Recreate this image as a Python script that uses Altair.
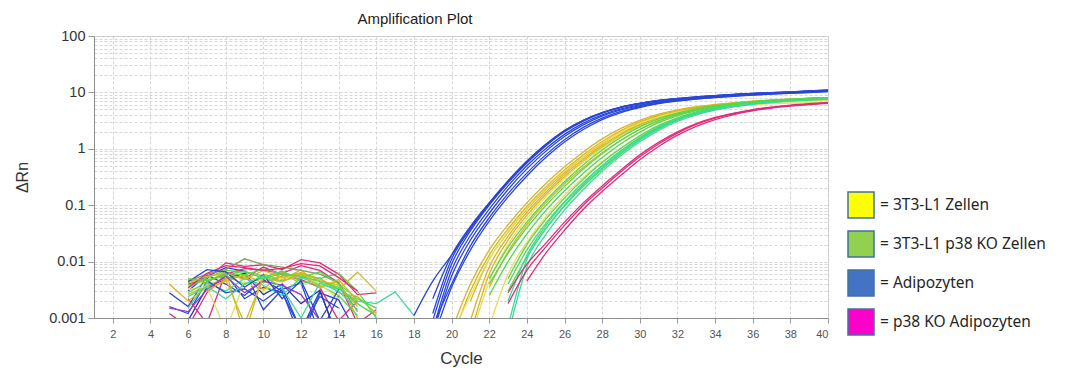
import altair as alt
import pandas as pd

TITLE = "Amplification Plot"
X_TITLE = "Cycle"
Y_TITLE = "ΔRn"

LEGEND_LABELS = ["= 3T3-L1 Zellen", "= 3T3-L1 p38 KO Zellen", "= Adipozyten", "= p38 KO Adipozyten"]
LEGEND_COLORS = ["#ffff00", "#92d050", "#4472c4", "#ff00cc"]

X_TICKS = list(range(2, 41, 2))
Y_DECADES = [0.001, 0.01, 0.1, 1, 10, 100]

# ---- amplification curves (start cycle, values per cycle) ----
blue_starts = [18, 19, 19, 19, 19, 19, 19, 19]
blue_curves = [
    [0.0011, 0.0045, 0.013, 0.04, 0.11, 0.27, 0.6, 1.2, 2.1, 3.2, 4.4, 5.5, 6.4, 7.2, 7.8, 8.3, 8.8, 9.2, 9.6, 9.9, 10.2, 10.6, 11.0],
    [0.0009, 0.009, 0.035, 0.1, 0.25, 0.56, 1.12, 2.0, 3.1, 4.3, 5.4, 6.3, 7.1, 7.7, 8.2, 8.7, 9.1, 9.5, 9.8, 10.1, 10.5, 10.9],
    [0.0006, 0.007, 0.029, 0.085, 0.22, 0.5, 1.0, 1.8, 2.85, 4.0, 5.1, 6.0, 6.8, 7.5, 8.0, 8.5, 8.9, 9.3, 9.6, 9.9, 10.3, 10.7],
    [0.0005, 0.0055, 0.024, 0.072, 0.19, 0.44, 0.9, 1.65, 2.65, 3.8, 4.9, 5.85, 6.65, 7.35, 7.9, 8.35, 8.8, 9.2, 9.5, 9.8, 10.2, 10.6],
    [0.0022, 0.013, 0.042, 0.11, 0.27, 0.6, 1.18, 2.1, 3.2, 4.4, 5.5, 6.4, 7.2, 7.8, 8.3, 8.8, 9.2, 9.6, 9.9, 10.2, 10.6, 11.0],
    [0.0007, 0.004, 0.019, 0.06, 0.16, 0.37, 0.78, 1.45, 2.4, 3.5, 4.6, 5.6, 6.45, 7.15, 7.7, 8.2, 8.65, 9.05, 9.4, 9.7, 10.0, 10.4],
    [0.0004, 0.0035, 0.016, 0.052, 0.14, 0.33, 0.7, 1.32, 2.2, 3.3, 4.4, 5.4, 6.3, 7.0, 7.6, 8.1, 8.55, 8.95, 9.3, 9.6, 9.9, 10.3],
    [0.0012, 0.011, 0.038, 0.105, 0.26, 0.58, 1.15, 2.05, 3.15, 4.35, 5.45, 6.35, 7.15, 7.75, 8.25, 8.75, 9.15, 9.55, 9.85, 10.15, 10.55, 10.95],
]

gold_starts = [20, 20, 21, 21, 21, 22]
gold_curves = [
    [0.0006, 0.004, 0.016, 0.045, 0.11, 0.24, 0.48, 0.88, 1.5, 2.3, 3.2, 4.1, 4.9, 5.6, 6.1, 6.6, 7.0, 7.3, 7.6, 7.8, 8.0],
    [0.0004, 0.003, 0.013, 0.038, 0.095, 0.21, 0.42, 0.78, 1.35, 2.1, 3.0, 3.9, 4.7, 5.4, 5.95, 6.45, 6.85, 7.2, 7.5, 7.7, 7.9],
    [0.002, 0.011, 0.033, 0.085, 0.19, 0.38, 0.72, 1.25, 2.0, 2.85, 3.75, 4.55, 5.25, 5.8, 6.3, 6.7, 7.05, 7.35, 7.6, 7.8],
    [0.0009, 0.008, 0.028, 0.075, 0.17, 0.35, 0.66, 1.15, 1.85, 2.7, 3.6, 4.4, 5.1, 5.7, 6.2, 6.6, 6.95, 7.25, 7.5, 7.7],
    [0.0005, 0.006, 0.024, 0.066, 0.155, 0.32, 0.61, 1.07, 1.75, 2.6, 3.5, 4.35, 5.1, 5.7, 6.2, 6.65, 7.0, 7.3, 7.55, 7.75],
    [0.0035, 0.015, 0.045, 0.11, 0.24, 0.47, 0.85, 1.42, 2.2, 3.1, 4.0, 4.85, 5.6, 6.2, 6.7, 7.15, 7.5, 7.8, 8.05],
]

pale_starts = [20, 21, 22]
pale_curves = [
    [0.0005, 0.0025, 0.011, 0.034, 0.088, 0.2, 0.4, 0.74, 1.28, 2.0, 2.85, 3.7, 4.45, 5.05, 5.5, 5.85, 6.1, 6.3, 6.45, 6.55, 6.6],
    [0.0004, 0.0045, 0.02, 0.058, 0.14, 0.3, 0.58, 1.02, 1.68, 2.5, 3.4, 4.25, 5.0, 5.6, 6.1, 6.5, 6.8, 7.05, 7.25, 7.4],
    [0.0007, 0.006, 0.022, 0.062, 0.15, 0.31, 0.59, 1.03, 1.68, 2.5, 3.4, 4.25, 5.0, 5.6, 6.1, 6.5, 6.8, 7.05, 7.25],
]

green_starts = [22, 22, 22, 23, 23, 23]
green_curves = [
    [0.005, 0.018, 0.05, 0.12, 0.26, 0.52, 0.95, 1.6, 2.45, 3.4, 4.3, 5.1, 5.8, 6.4, 6.9, 7.3, 7.6, 7.9, 8.1],
    [0.004, 0.014, 0.04, 0.098, 0.215, 0.44, 0.82, 1.42, 2.22, 3.15, 4.1, 4.95, 5.7, 6.3, 6.8, 7.2, 7.55, 7.85, 8.1],
    [0.0025, 0.01, 0.031, 0.08, 0.18, 0.37, 0.7, 1.23, 1.98, 2.9, 3.85, 4.75, 5.5, 6.15, 6.65, 7.1, 7.45, 7.75, 8.0],
    [0.005, 0.02, 0.056, 0.135, 0.29, 0.57, 1.02, 1.7, 2.6, 3.55, 4.5, 5.3, 6.0, 6.55, 7.0, 7.4, 7.7, 7.95],
    [0.004, 0.016, 0.047, 0.115, 0.25, 0.5, 0.92, 1.56, 2.42, 3.38, 4.32, 5.15, 5.85, 6.45, 6.9, 7.3, 7.6, 7.85],
    [0.003, 0.012, 0.038, 0.097, 0.215, 0.44, 0.82, 1.42, 2.25, 3.2, 4.15, 5.0, 5.75, 6.35, 6.85, 7.25, 7.55, 7.8],
]

teal_starts = [23, 23, 23]
teal_curves = [
    [0.0007, 0.011, 0.038, 0.1, 0.23, 0.46, 0.86, 1.48, 2.32, 3.28, 4.2, 5.0, 5.7, 6.25, 6.7, 7.05, 7.35, 7.6],
    [0.0005, 0.008, 0.03, 0.082, 0.19, 0.4, 0.76, 1.33, 2.12, 3.05, 4.0, 4.85, 5.55, 6.15, 6.6, 7.0, 7.3, 7.55],
    [0.002, 0.013, 0.043, 0.112, 0.25, 0.5, 0.92, 1.56, 2.42, 3.38, 4.3, 5.1, 5.8, 6.35, 6.8, 7.15, 7.45, 7.7],
]

pink_starts = [23, 23, 24]
pink_curves = [
    [0.0028, 0.009, 0.021, 0.05, 0.11, 0.22, 0.42, 0.78, 1.3, 2.0, 2.8, 3.6, 4.3, 4.95, 5.5, 5.95, 6.3, 6.6],
    [0.0018, 0.007, 0.018, 0.044, 0.1, 0.2, 0.39, 0.72, 1.22, 1.9, 2.7, 3.5, 4.2, 4.85, 5.4, 5.85, 6.2, 6.5],
    [0.0045, 0.014, 0.036, 0.085, 0.175, 0.34, 0.64, 1.1, 1.75, 2.5, 3.3, 4.05, 4.7, 5.25, 5.7, 6.1, 6.4],
]

# ---- baseline noise traces (group, start cycle, values) ----
noise_groups = ["blue", "blue", "blue", "navy", "pink", "pink", "pink", "gold", "gold", "gold",
                "green", "olive", "teal", "green", "pale", "blue", "purple",
                "gold", "green", "pink", "blue", "gold", "green", "teal"]
noise_starts = [5, 5, 6, 6, 6, 5, 6, 5, 6, 6, 6, 6, 6, 6, 6, 7, 5,
                6, 6, 6, 6, 7, 6, 6]
noise_curves = [
    [0.0028, 0.0016, 0.0055, 0.0078, 0.0068, 0.0014, 0.0032, 0.0042, 0.0005, 0.0025],
    [0.0016, 0.0012, 0.0045, 0.0060, 0.0022, 0.0035, 0.0028, 0.0006, 0.0030, 0.0004],
    [0.0030, 0.0058, 0.0040, 0.0025, 0.0048, 0.0030, 0.0004, 0.0028, 0.0021, 0.0005],
    [0.0009, 0.0035, 0.0050, 0.0062, 0.0026, 0.0040, 0.0018, 0.0031, 0.0004],
    [0.0040, 0.0050, 0.0095, 0.0082, 0.0088, 0.0072, 0.0108, 0.0095, 0.0060, 0.0026, 0.0028],
    [0.0012, 0.0007, 0.0028, 0.0060, 0.0075, 0.0070, 0.0062, 0.0085, 0.0070, 0.0042, 0.0008, 0.0014],
    [0.0022, 0.0008, 0.0065, 0.0050, 0.0080, 0.0058, 0.0048, 0.0035, 0.0009, 0.0020],
    [0.0040, 0.0020, 0.0035, 0.0045, 0.0058, 0.0042, 0.0055, 0.0062, 0.0050, 0.0032, 0.0065, 0.0030],
    [0.0048, 0.0042, 0.0068, 0.0005, 0.0060, 0.0047, 0.0072, 0.0036, 0.0044, 0.0010],
    [0.0026, 0.0038, 0.0050, 0.0055, 0.0032, 0.0065, 0.0040, 0.0052, 0.0028, 0.0024, 0.0012],
    [0.0035, 0.0052, 0.0070, 0.0065, 0.0056, 0.0045, 0.0060, 0.0050, 0.0062, 0.0030, 0.0010],
    [0.0045, 0.0060, 0.0072, 0.0112, 0.0088, 0.0080, 0.0070, 0.0060, 0.0042, 0.0013],
    [0.0015, 0.0042, 0.0030, 0.0050, 0.0038, 0.0025, 0.0052, 0.0040, 0.0033, 0.0020, 0.0018, 0.0029, 0.0011],
    [0.0038, 0.0048, 0.0055, 0.0040, 0.0052, 0.0068, 0.0045, 0.0038, 0.0025, 0.0011],
    [0.0032, 0.0036, 0.0006, 0.0044, 0.0030, 0.0052, 0.0058, 0.0040, 0.0022],
    [0.0046, 0.0028, 0.0033, 0.0020, 0.0035, 0.0006, 0.0024, 0.0015],
    [0.0015, 0.0013, 0.0032, 0.0055, 0.0028, 0.0045, 0.0038, 0.0026, 0.0009],
    [0.0042, 0.0055, 0.0062, 0.0048, 0.0070, 0.0052, 0.0064, 0.0046, 0.0038, 0.0016],
    [0.0028, 0.0044, 0.0062, 0.0058, 0.0074, 0.0060, 0.0052, 0.0066, 0.0040, 0.0022, 0.0015],
    [0.0034, 0.0062, 0.0085, 0.0078, 0.0070, 0.0076, 0.0092, 0.0084, 0.0052, 0.0030],
    [0.0044, 0.0072, 0.0066, 0.0035, 0.0058, 0.0022, 0.0046, 0.0009, 0.0032],
    [0.0030, 0.0048, 0.0008, 0.0052, 0.0044, 0.0060, 0.0034, 0.0048, 0.0020],
    [0.0050, 0.0046, 0.0058, 0.0068, 0.0050, 0.0062, 0.0055, 0.0044, 0.0035, 0.0018, 0.0011],
    [0.0024, 0.0036, 0.0022, 0.0040, 0.0056, 0.0034, 0.0010, 0.0042, 0.0030, 0.0014],
]

# ---- styles ----
LINE_GROUPS = ["gold", "pale", "green", "olive", "teal", "pink", "purple", "navy", "blue"]
LINE_COLORS = ["#d8b521", "#e6df5c", "#55d84b", "#8a9a60", "#3cd99b", "#e22b7d", "#9a3cc8", "#2e32a8", "#2a46d8"]
FONT = "Liberation Sans"

amp_sets = [("gold", gold_starts, gold_curves), ("pale", pale_starts, pale_curves),
            ("green", green_starts, green_curves), ("teal", teal_starts, teal_curves),
            ("pink", pink_starts, pink_curves), ("blue", blue_starts, blue_curves)]

amp_rows = []
for grp, starts, curves in amp_sets:
    for k, (s, vals) in enumerate(zip(starts, curves)):
        for i, v in enumerate(vals):
            amp_rows.append({"trace": f"{grp}{k}", "grp": grp, "cycle": s + i, "value": v})
amp_df = pd.DataFrame(amp_rows)

noise_rows = []
for k, (g, s, vals) in enumerate(zip(noise_groups, noise_starts, noise_curves)):
    for i, v in enumerate(vals):
        noise_rows.append({"trace": f"n{k}", "grp": g, "cycle": s + i, "value": v})
noise_df = pd.DataFrame(noise_rows)

y_grid = sorted(set([round(m * 10 ** e, 6) for e in range(-3, 2) for m in range(1, 10)] + [100]))
is_decade = "abs(log(datum.value)/LN10 - round(log(datum.value)/LN10)) < 0.001"

X = alt.X("cycle:Q",
          scale=alt.Scale(domain=[1, 40], nice=False, zero=False),
          axis=alt.Axis(values=X_TICKS, title=X_TITLE, labelFont=FONT, labelFontSize=11,
                        labelColor="#555555", labelPadding=5, tickSize=5, tickColor="#999999",
                        domainColor="#8c8c8c", gridColor="#d6d6d6", gridDash=[3, 2],
                        titleFont=FONT, titleFontSize=17, titleFontWeight="normal",
                        titleColor="#333333", titleBaseline="alphabetic", titleY=45))
Y = alt.Y("value:Q",
          scale=alt.Scale(type="log", domain=[0.001, 100], nice=False),
          axis=alt.Axis(values=y_grid, title=Y_TITLE,
                        labelExpr=f"{is_decade} ? format(datum.value, '~g') : ''",
                        labelFont=FONT, labelFontSize=14.5, labelColor="#333333", labelPadding=3,
                        tickSize=6, tickColor="#999999",
                        tickOpacity={"condition": {"test": is_decade, "value": 1}, "value": 0},
                        domainColor="#8c8c8c", gridColor="#d6d6d6", gridDash=[3, 2],
                        titleFont=FONT, titleFontSize=16, titleFontWeight="normal", titleColor="#333333",
                        titleX=-72, titleY=141, titleAlign="center", titleBaseline="middle"))
C = alt.Color("grp:N", scale=alt.Scale(domain=LINE_GROUPS, range=LINE_COLORS), legend=None)

noise_layer = alt.Chart(noise_df).mark_line(clip=True, strokeWidth=1.3).encode(
    x=X, y=Y, color=C, detail="trace:N", order="cycle:Q")
amp_layer = alt.Chart(amp_df).mark_line(clip=True, strokeWidth=1.3, interpolate="monotone").encode(
    x=X, y=Y, color=C, detail="trace:N", order="cycle:Q")

legend_df = pd.DataFrame({"label": LEGEND_LABELS, "cycle": [20] * 4, "value": [1] * 4})
legend_layer = alt.Chart(legend_df).mark_square(opacity=0, filled=True).encode(
    x=X, y=Y,
    color=alt.Color("label:N", scale=alt.Scale(domain=LEGEND_LABELS, range=LEGEND_COLORS),
                    legend=alt.Legend(title=None, orient="none", legendX=753, legendY=155,
                                      symbolType="square", symbolSize=676,
                                      symbolStrokeColor="#41719c", symbolStrokeWidth=1.5,
                                      symbolOpacity=1, labelFont="Noto Sans", labelFontSize=15.5,
                                      labelColor="#262626", labelOffset=5, rowPadding=7,
                                      padding=0, labelLimit=300)))

chart = alt.layer(noise_layer, amp_layer, legend_layer).resolve_scale(color="independent").properties(
    width=734, height=282,
    title=alt.Title(TITLE, fontSize=15, font=FONT, fontWeight="normal", color="#222222",
                    anchor="middle", dx=-46, dy=23, offset=12, frame="group", baseline="alphabetic"),
    padding={"left": 94, "top": 36, "right": 261, "bottom": 52},
    autosize=alt.AutoSizeParams(type="none"),
).configure_view(stroke="#c4c4c4", strokeWidth=1)

chart.save("out.html", embed_options={"renderer": "svg", "actions": False})
